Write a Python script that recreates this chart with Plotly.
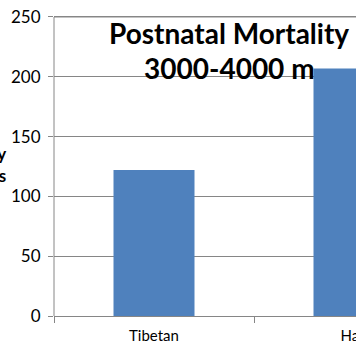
import plotly.graph_objects as go

categories = ["Tibetan", "Han"]
values = [122, 207]
y_ticks = [0, 50, 100, 150, 200, 250]
title_lines = ["Postnatal Mortality", "3000-4000 m"]
y_title_lines = ["Mortality", "per 1000 births"]

FONT = "Lato, Open Sans, sans-serif"

W, H = 356, 358
ML, MT, MB = 54, 14, 42
PW, PH = W - ML, H - MT - MB


def px(xwin):
    return (xwin - ML) / PW


def py(ywin):
    return 1 - (ywin - MT) / PH


fig = go.Figure(
    go.Bar(
        x=categories,
        y=values,
        marker=dict(color="#4F81BD", line=dict(width=0)),
    )
)

fig.update_layout(
    width=W,
    height=H,
    autosize=False,
    margin=dict(l=ML, r=0, t=MT, b=MB, pad=0, autoexpand=False),
    paper_bgcolor="white",
    plot_bgcolor="white",
    bargap=0.595,
    showlegend=False,
    font=dict(family=FONT, size=16, color="#000000"),
)

fig.update_xaxes(
    range=[-0.5, 1.01],
    automargin=False,
    showline=True,
    linecolor="#868686",
    linewidth=1,
    ticks="outside",
    tickson="boundaries",
    ticklen=6,
    tickcolor="#868686",
    showgrid=False,
    tickfont=dict(size=15, color="#000000"),
    ticklabelstandoff=6,
    ticklabeloverflow="allow",
)

fig.update_yaxes(
    range=[0, 252.5],
    automargin=False,
    tickvals=y_ticks,
    showline=False,
    ticks="outside",
    ticklen=5,
    tickcolor="#868686",
    showgrid=True,
    gridcolor="#868686",
    gridwidth=1,
    zeroline=False,
    tickfont=dict(size=17, color="#000000"),
    ticklabelstandoff=4,
    ticklabeloverflow="allow",
)

# vertical axis line spanning only 0..250 like the reference
fig.add_shape(
    type="line", xref="paper", yref="y",
    x0=0, x1=0, y0=0, y1=y_ticks[-1],
    line=dict(color="#868686", width=1),
)
# top grid line at the last tick
fig.add_shape(
    type="line", xref="paper", yref="y",
    x0=0, x1=1, y0=y_ticks[-1], y1=y_ticks[-1],
    line=dict(color="#868686", width=1),
    layer="below",
)

for line, yc in zip(title_lines, [33, 68]):
    fig.add_annotation(
        text="<b>" + line + "</b>",
        xref="paper", yref="paper",
        x=px(229), y=py(yc),
        xanchor="center", yanchor="middle",
        showarrow=False,
        font=dict(family=FONT, size=28, color="#000000"),
    )

fig.add_annotation(
    text="<b>" + "<br>".join(y_title_lines) + "</b>",
    xref="paper", yref="paper",
    x=px(8), y=py(164),
    xanchor="right", yanchor="middle",
    showarrow=False,
    align="right",
    font=dict(family=FONT, size=17, color="#000000"),
)

fig.write_html(
    "out.html",
    config={"responsive": False, "displayModeBar": False},
    post_script=(
        "document.body.style.margin='0';"
        "document.body.style.overflow='hidden';"
        "document.documentElement.style.overflow='hidden';"
    ),
)
